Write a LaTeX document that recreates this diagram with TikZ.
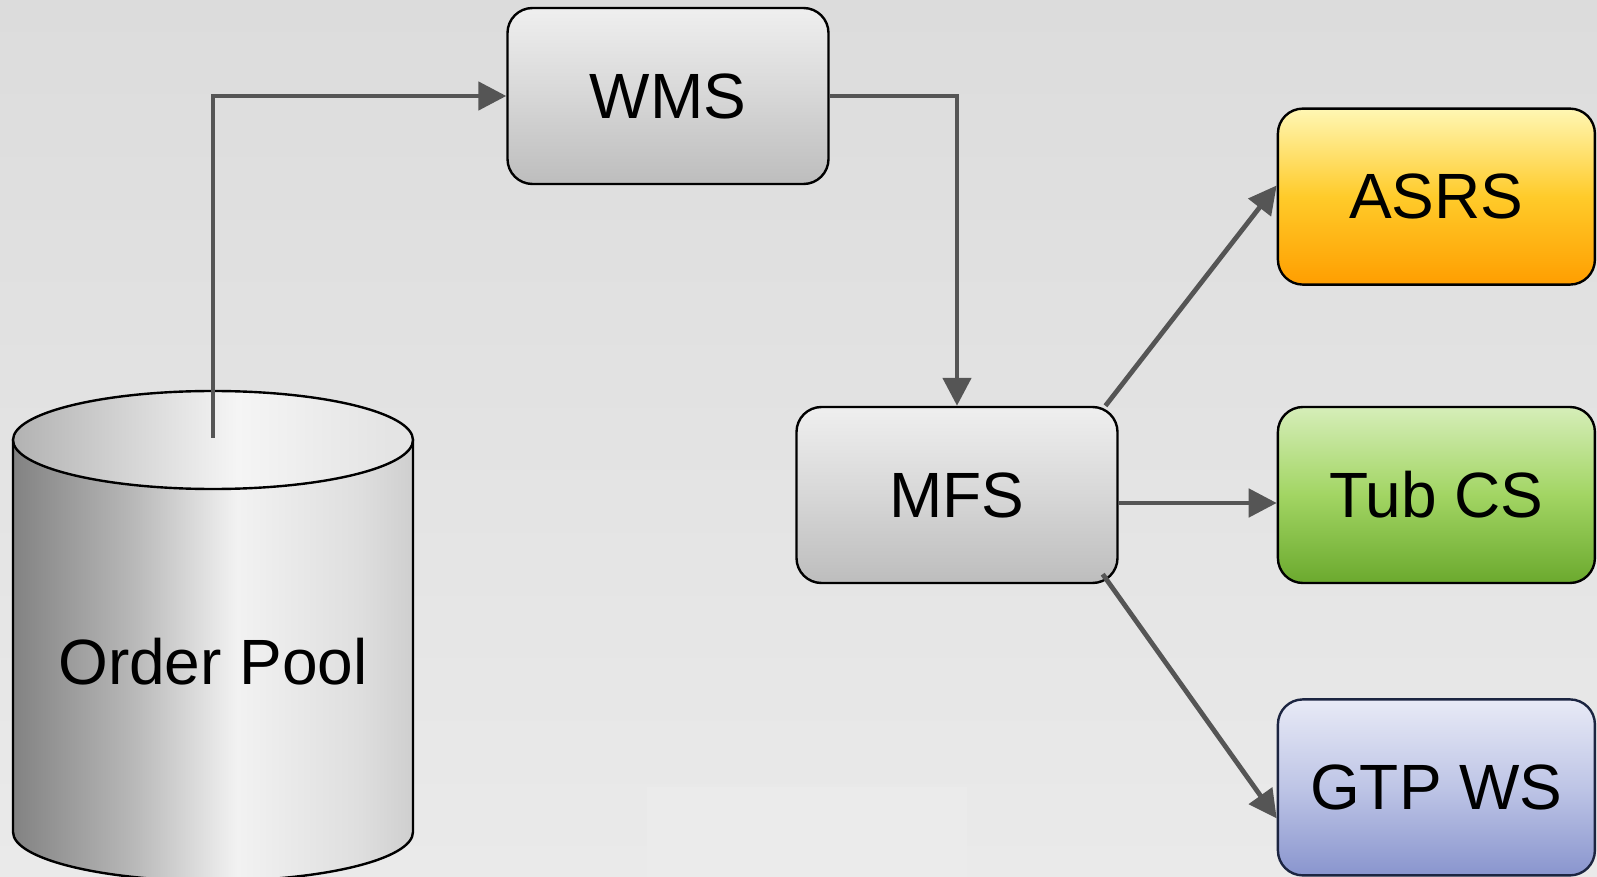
\documentclass[tikz,border=0pt]{standalone}
\usepackage{fontspec}
\setmainfont{Liberation Sans}
\usepackage{tikz}
\usetikzlibrary{arrows.meta, positioning}

\definecolor{linegray}{HTML}{555555}
\definecolor{bgtop}{HTML}{DCDCDC}
\definecolor{bgbot}{HTML}{EAEAEA}
\definecolor{bgpatch}{HTML}{EBEBEB}
\definecolor{boxtop}{HTML}{EFEFEF}
\definecolor{boxmid}{HTML}{D7D7D7}
\definecolor{boxbot}{HTML}{BDBDBD}
\definecolor{asrstop}{HTML}{FFF7B4}
\definecolor{asrsmid}{HTML}{FFCB2A}
\definecolor{asrsbot}{HTML}{FF9E00}
\definecolor{tubtop}{HTML}{D6EEB9}
\definecolor{tubmid}{HTML}{A2D563}
\definecolor{tubbot}{HTML}{6BA92E}
\definecolor{gtptop}{HTML}{E8EAF6}
\definecolor{gtpmid}{HTML}{BEC5E6}
\definecolor{gtpbot}{HTML}{8995CE}
\definecolor{gtpline}{HTML}{1C2541}
\definecolor{poolA}{HTML}{828282}
\definecolor{poolB}{HTML}{B8B8B8}
\definecolor{poolC}{HTML}{F2F2F2}
\definecolor{poolD}{HTML}{DFDFDF}
\definecolor{poolE}{HTML}{CFCFCF}
\definecolor{capA}{HTML}{B2B2B2}
\definecolor{capB}{HTML}{F5F5F5}
\definecolor{capC}{HTML}{E4E4E4}

\pgfdeclarehorizontalshading{poolshade}{100bp}{color(0bp)=(poolA); color(25bp)=(poolA); color(40bp)=(poolB); color(53bp)=(poolC); color(68bp)=(poolD); color(75bp)=(poolE); color(100bp)=(poolE)}
\pgfdeclarehorizontalshading{capshade}{100bp}{color(0bp)=(capA); color(25bp)=(capA); color(53bp)=(capB); color(72bp)=(capC); color(75bp)=(capC); color(100bp)=(capC)}

\begin{document}
\begin{tikzpicture}[
                x=0.5pt, y=-0.5pt,
                font=\fontsize{32}{38}\selectfont,
                node distance=60pt and 79pt,
                box/.style={rectangle, draw, line width=1.2pt, rounded corners=12.5pt, align=center, minimum width=160.5pt, minimum height=88pt, inner sep=0pt, top color=boxtop, bottom color=boxbot, middle color=boxmid},
                sysbox/.style={box, minimum width=158.5pt},
                arrow/.style={line width=2.4pt, draw=linegray, -{Triangle[length=14pt, width=14pt]}}
            ]
            \useasboundingbox (0,0) rectangle (1597,877);
            \fill [top color=bgtop, bottom color=bgbot] (0,0) rectangle (1597,877);
            \fill [bgpatch] (647,787) rectangle (967,877);

            % order pool cylinder
            \path [draw, line width=1.2pt, shading=poolshade] (13,440) -- (13,832) arc[start angle=180, end angle=0, x radius=200, y radius=49] -- (413,440) -- cycle;
            \path [draw, line width=1.2pt, shading=capshade] (213,440) ellipse[x radius=200, y radius=49];
            \node (pool) at (213,662) {Order Pool};
            \coordinate (pooltop) at (213,438);

            \node (wms) [box] at (668,96) {WMS};
            \node (mfs) [box] at (957,495) {MFS};
            \node (tub) [sysbox, right=of mfs, top color=tubtop, bottom color=tubbot, middle color=tubmid] {Tub CS};
            \node (asrs) [sysbox, above=of tub, top color=asrstop, bottom color=asrsbot, middle color=asrsmid] {ASRS};
            \node (gtp) [sysbox, below=57pt of tub, draw=gtpline, top color=gtptop, bottom color=gtpbot, middle color=gtpmid] {GTP WS};

            \draw [arrow] (pooltop) |- (wms);
            \draw [arrow] (wms) -| (mfs);
            \draw [arrow] (mfs.31) -- (asrs.176);
            \draw [arrow] ([yshift=-4pt]mfs.east) -- ([yshift=-4pt]tub.west);
            \draw [arrow] ([xshift=-8pt, yshift=5pt]mfs.south east) -- (gtp.191);
\end{tikzpicture}
\end{document}
